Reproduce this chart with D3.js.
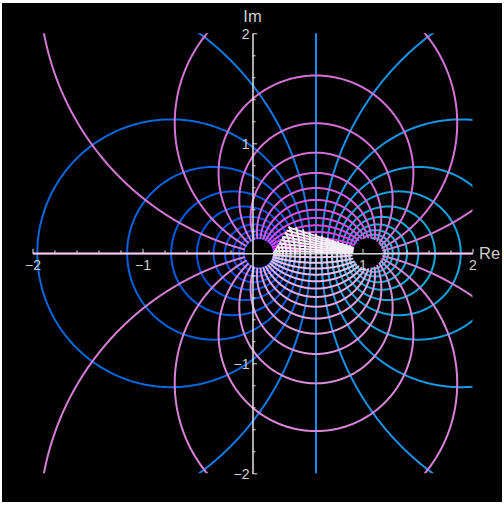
<!DOCTYPE html>
<html><head><meta charset="utf-8">
<script src="https://cdn.jsdelivr.net/npm/d3@7"></script>
<style>html,body{margin:0;padding:0;background:#fff;} svg{display:block;}</style>
</head><body>
<svg id="c" width="504" height="506"></svg>
<script>
// ---- data / model parameters ----
const foci = [0.077, 1.077];                 // left and right limit points of the bipolar grid
const uLevels = [-2.0,-1.8,-1.6,-1.4,-1.2,-1.0,-0.8,-0.6,-0.4,-0.2,0,0.2,0.4,0.6,0.8,1.0,1.2,1.4,1.6,1.8,2.0,2.2];
const sLevels = [-3.0,-2.8,-2.6,-2.4,-2.2,-2.0,-1.8,-1.6,-1.4,-1.2,-1.0,-0.8,-0.6,-0.4,-0.2,0,0.2,0.4,0.6,0.8,1.0,1.2,1.4,1.6,1.8,2.0,2.2,2.4,2.6,2.8,3.0];
const sRange = [-Math.PI, Math.PI];
const uFloor = -2.0;
const diskCenter = 2.66, diskRadius = 7.32;
// white fan converging on the right focus
const fanDeviations = [0.025,0.065,0.105,0.145,0.185,0.225,0.265,0.305];
const fanSpread = 0.325;
const fanStart = 0.17;
const fanCut = [[0.19,0.0],[0.335,0.235]];
const xTickValues = [-2,-1,1,2];
const xTickLabels = ["\u22122","\u22121","1","2"];
const yTickValues = [-2,-1,1,2];
const yTickLabels = ["\u22122","\u22121","1","2"];
const minorTicks = [-1.8,-1.6,-1.4,-1.2,-0.8,-0.6,-0.4,-0.2,0.2,0.4,0.6,0.8,1.2,1.4,1.6,1.8];
const blueStops = [-2,-1,-0.4,0,0.4,1,2.2];
const blueColors = ["#0046f2","#0056ea","#0a68de","#1a8cf0","#1898e4","#10aadc","#00c8e2"];
const pinkStops = [-3.1,-2.0,-0.8,0,1.0,2.0,3.0];
const pinkColors = ["#f3d4f3","#e8b2e8","#da8cda","#d47ad4","#d46ed8","#e04ce8","#f528f5"];
const fanColor = "#f6eef7";

// ---- setup ----
const svg = d3.select("#c");
svg.append("rect").attr("width",504).attr("height",506).attr("fill","#fff");
svg.append("rect").attr("x",2).attr("y",3).attr("width",500).attr("height",499).attr("fill","#000");
const x = d3.scaleLinear().domain([-2,2]).range([32.5,472.5]);
const y = d3.scaleLinear().domain([-2,2]).range([473.3,33.3]);
svg.append("defs").append("clipPath").attr("id","clip").append("rect")
  .attr("x",x(-2)).attr("y",y(2)).attr("width",x(2)-x(-2)).attr("height",y(-2)-y(2));
const g = svg.append("g").attr("clip-path","url(#clip)");
const line = d3.line().x(d=>x(d[0])).y(d=>y(d[1]));
const blueScale = d3.scaleLinear().domain(blueStops).range(blueColors).interpolate(d3.interpolateRgb).clamp(true);
const pinkScale = d3.scaleLinear().domain(pinkStops).range(pinkColors).interpolate(d3.interpolateRgb).clamp(true);

const [p,q] = foci;
function mapW(u,s){
  const e = Math.exp(u), er = e*Math.cos(s), ei = -e*Math.sin(s);
  const nr = p - er*q, ni = -ei*q, dr = 1-er, di = -ei;
  const den = dr*dr+di*di;
  return [(nr*dr+ni*di)/den, (ni*dr-nr*di)/den];
}
function uMaxAt(s){const c=diskCenter,R=diskRadius;return Math.log(c*Math.cos(s)+Math.sqrt(R*R-c*c*Math.sin(s)**2));}
function uMinAt(s){return uFloor;}
function whiteAmt(s){ if(s>=-2.2) return 0; return Math.min(0.85, 0.8*(-2.2-s)/0.95); }
function uColor(u,s){ const w=Math.round(whiteAmt(s)*20)/20; return d3.interpolateRgb(blueScale(u),"#f6eaf6")(w); }
const [L0,L1] = fanCut;
function sideOfCut(pt){ return (L1[0]-L0[0])*(pt[1]-L0[1]) - (L1[1]-L0[1])*(pt[0]-L0[0]); }
function inFan(pt){
  if(pt[1] < 0) return false;
  const th = Math.atan2(pt[1], pt[0]-q);
  return th >= Math.PI - fanSpread && sideOfCut(pt) <= 0 && Math.hypot(pt[0]-q,pt[1]) >= fanStart*0.9;
}

const runs = [];
function pushPt(state, pt, color, layer, fam){
  if(!pt || Math.hypot(pt[0],pt[1])>40){ if(state.cur){runs.push(state.cur);state.cur=null;} return; }
  if(state.cur && (state.cur.color!==color || state.cur.layer!==layer)){
    const last = state.cur.pts[state.cur.pts.length-1]; runs.push(state.cur);
    state.cur = {pts:[last],color,layer,fam};
  }
  if(!state.cur) state.cur={pts:[],color,layer,fam};
  state.cur.pts.push(pt);
}
uLevels.forEach(u=>{
  const st={cur:null}, N=1600;
  for(let i=0;i<=N;i++){
    const s = sRange[0]+i*(sRange[1]-sRange[0])/N;
    const ok = u>=uMinAt(s)-1e-9 && u<=uMaxAt(s)+1e-9;
    const pt = ok?mapW(u,s):null;
    const fan = pt && inFan(pt);
    pushPt(st, pt, fan?fanColor:uColor(u,s), fan?1:0, "u");
  }
  if(st.cur) runs.push(st.cur);
});
sLevels.forEach(s=>{
  const st={cur:null}, N=1400, a=uMinAt(s), b=uMaxAt(s);
  for(let i=0;i<=N;i++){
    const u = a+i*(b-a)/N;
    pushPt(st, mapW(u,s), pinkScale(s), 0, "s");
  }
  if(st.cur) runs.push(st.cur);
});
// fan rays from the right focus to the cut line
fanDeviations.forEach(dv=>{
  const phi = Math.PI - dv, dx = Math.cos(phi), dy = Math.sin(phi);
  // intersect q + t*(dx,dy) with L0 + k*(L1-L0)
  const ex = L1[0]-L0[0], ey = L1[1]-L0[1];
  const den = dx*ey - dy*ex;
  const t = ((L0[0]-q)*ey - (L0[1])*ex)/den;
  const pts = d3.range(0,21).map(i=>{const tt=fanStart+(t-fanStart)*i/20;return [q+tt*dx, tt*dy];});
  runs.push({pts,color:fanColor,layer:1,fam:"s"});
});
const order = [[0,"u"],[0,"s"],[1,"u"],[1,"s"]];
order.forEach(([L,F])=>{
  g.append("g").selectAll("path").data(runs.filter(r=>r.layer===L&&r.fam===F&&r.pts.length>1))
   .join("path").attr("d",d=>line(d.pts)).attr("fill","none").attr("stroke",d=>d.color)
   .attr("stroke-width",2).attr("stroke-linecap","round").attr("stroke-linejoin","round");
});

// ---- axes ----
const axisColor = "#e4e4e4", textColor = "#d0d0d0", font = "'Liberation Sans', Arial, sans-serif";
const xg = svg.append("g").attr("transform",`translate(0,${y(0)})`);
xg.call(d3.axisBottom(x).tickValues(minorTicks).tickSize(-3).tickSizeOuter(0).tickFormat(""));
xg.append("g").call(d3.axisBottom(x).tickValues(xTickValues).tickSize(-4.5).tickSizeOuter(0).tickPadding(6.8)
   .tickFormat((d,i)=>xTickLabels[i]));
const yg = svg.append("g").attr("transform",`translate(${x(0)},0)`);
yg.call(d3.axisLeft(y).tickValues(minorTicks).tickSize(-3).tickSizeOuter(0).tickFormat(""));
yg.append("g").call(d3.axisLeft(y).tickValues(yTickValues).tickSize(-4.5).tickSizeOuter(0).tickPadding(3)
   .tickFormat((d,i)=>yTickLabels[i]));
svg.selectAll(".domain").attr("stroke",axisColor).attr("stroke-width",1);
svg.selectAll(".tick line").attr("stroke",axisColor).attr("stroke-width",1);
svg.selectAll(".tick text").attr("fill",textColor).attr("font-size",14).attr("font-family",font);
yg.selectAll(".tick text").attr("dy","0.36em");
svg.append("text").attr("x",x(0)).attr("y",22).attr("text-anchor","middle").attr("fill",textColor)
  .attr("font-size",16.5).attr("font-family",font).text("Im");
svg.append("text").attr("x",479).attr("y",258.5).attr("fill",textColor)
  .attr("font-size",16.5).attr("font-family",font).text("Re");
</script>
</body></html>
